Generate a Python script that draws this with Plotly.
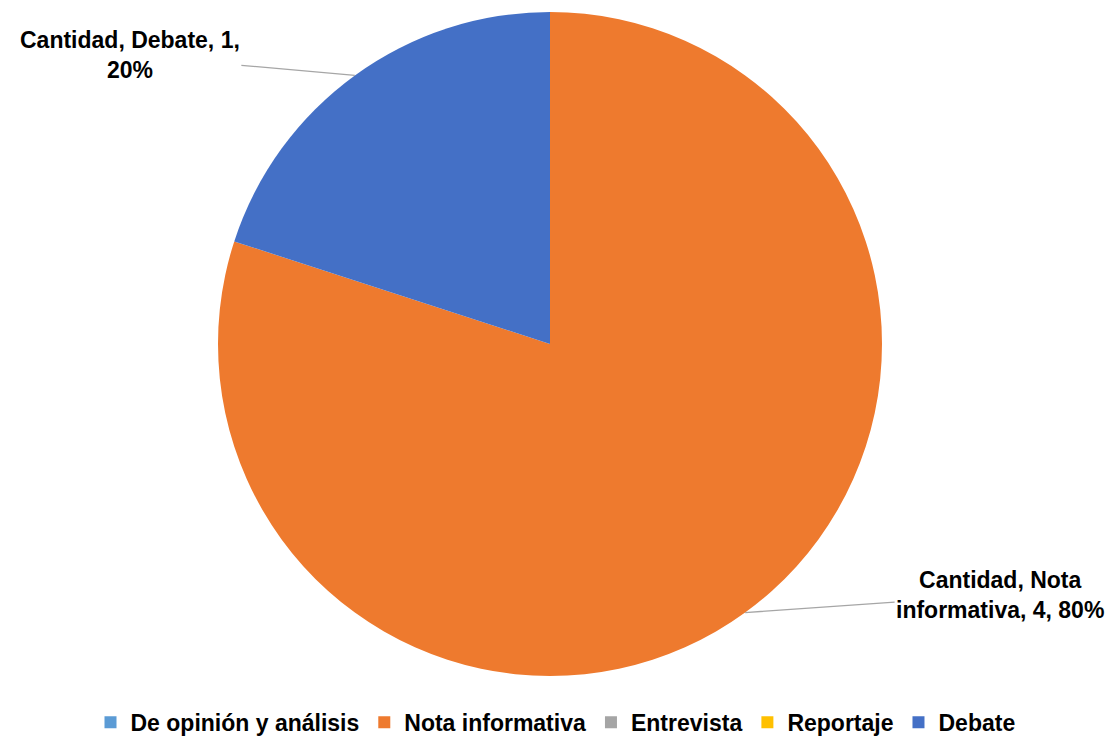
import math
import plotly.graph_objects as go

categories = ["De opinión y análisis", "Nota informativa", "Entrevista", "Reportaje", "Debate"]
values = [0, 4, 0, 0, 1]
series_name = "Cantidad"
colors = ["#5B9BD5", "#EE7A2E", "#A5A5A5", "#FFC000", "#4470C6"]

W, H = 1111, 738
cx, cy, r = 550, 344, 332

fig = go.Figure(go.Pie(
    labels=categories,
    values=values,
    sort=False,
    direction="clockwise",
    rotation=0,
    marker=dict(colors=colors, line=dict(width=0)),
    textinfo="none",
    hoverinfo="label+value+percent",
    domain=dict(x=[(cx - r) / W, (cx + r) / W], y=[1 - (cy + r) / H, 1 - (cy - r) / H]),
    showlegend=True,
))

# Data labels with leader lines at each non-zero slice's mid-angle
total = sum(values)
offsets = {"Debate": (-225, -20), "Nota informativa": (255, -18)}
cum = 0
annotations = []
for cat, v in zip(categories, values):
    if v > 0:
        mid = (cum + v / 2) / total * 2 * math.pi
        px = cx + r * math.sin(mid)
        py = cy - r * math.cos(mid)
        ax, ay = offsets[cat]
        pct = round(v / total * 100)
        if cat == "Debate":
            txt = f"{series_name}, {cat}, {v},<br>{pct}%"
        else:
            txt = f"{series_name}, Nota<br>informativa, {v}, {pct}%"
        annotations.append(dict(
            x=px / W, y=1 - py / H, xref="paper", yref="paper",
            text=f"<b>{txt}</b>", showarrow=True, arrowhead=0, arrowwidth=1.3,
            arrowcolor="#A6A6A6", ax=ax, ay=ay, standoff=0,
            font=dict(family="Liberation Sans, Arial, sans-serif", size=23, color="black"),
            align="center",
        ))
    cum += v

fig.update_layout(
    width=W, height=H,
    margin=dict(l=0, r=0, t=0, b=0, autoexpand=False),
    paper_bgcolor="white",
    plot_bgcolor="white",
    annotations=annotations,
    legend=dict(
        orientation="h", x=0.5, xanchor="center", y=-0.008, yanchor="bottom",
        font=dict(family="Liberation Sans, Arial, sans-serif", size=23, color="black", weight="bold"),
        itemwidth=30, traceorder="normal",
    ),
)

fig.write_html("out.html", config={"displayModeBar": False},
               post_script="document.body.style.margin='0';")
